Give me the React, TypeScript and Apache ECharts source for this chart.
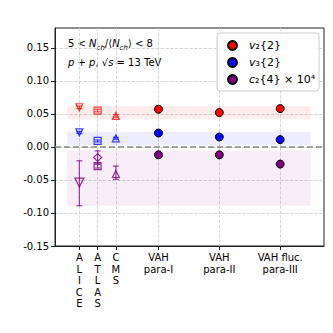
import React, { useEffect, useRef } from "react";
import * as echarts from "echarts";

const categories = ["ALICE", "ATLAS", "CMS", "VAH\npara-I", "VAH\npara-II", "VAH fluc.\npara-III"];
const xPos = [-0.3, 0, 0.3, 1, 2, 3];
const yTicks = [-0.15, -0.1, -0.05, 0, 0.05, 0.1, 0.15];

// experiments: ALICE, ATLAS, CMS
const exptSymbols = ["triangle", "rect", "triangle"];
const exptRotate = [180, 0, 0];
const exptV2 = [0.06, 0.055, 0.047];
const exptV2Err = [0.002, 0.002, 0.002];
const exptV3 = [0.022, 0.009, 0.013];
const exptV3Err = [0.0015, 0.0015, 0.0015];
const exptC2 = [-0.054, -0.029, -0.041];
const exptC2Lo = [-0.089, -0.032, -0.049];
const exptC2Hi = [-0.021, -0.026, -0.029];
// ATLAS second c2 point (diamond)
const atlasC2b = -0.016;
const atlasC2bLo = -0.026;
const atlasC2bHi = -0.006;

// VAH model points: para-I, para-II, fluc. para-III
const vahV2 = [0.057, 0.052, 0.058];
const vahV2Err = [0.001, 0.001, 0.001];
const vahV3 = [0.021, 0.015, 0.011];
const vahV3Err = [0.001, 0.001, 0.001];
const vahC2 = [-0.012, -0.012, -0.026];
const vahC2Err = [0.002, 0.002, 0.003];

// bands
const bandX = [-0.5, 3.5];
const bandV2 = [0.042, 0.062];
const bandV3 = [0.003, 0.023];
const bandC2 = [-0.089, -0.006];

const legendNames = ["v2{2}", "v3{2}", "c2{4}"];
const legendLabels = ["{i|v}₂{2}", "{i|v}₃{2}", "{i|c}₂{4} × 10⁴"];

const RED = "#ff0000";
const BLUE = "#0000ff";
const PURPLE = "#800080";
const FONT = "DejaVu Sans";

function errSeries(data: number[][], color: string) {
  return {
    type: "custom",
    silent: true,
    z: 3,
    renderItem: (params: any, api: any) => {
      const x = api.value(0);
      const lo = api.value(1);
      const hi = api.value(2);
      const p1 = api.coord([x, lo]);
      const p2 = api.coord([x, hi]);
      const w = 3;
      const st = { stroke: color, lineWidth: 1.2 };
      return {
        type: "group",
        children: [
          { type: "line", shape: { x1: p1[0], y1: p1[1], x2: p2[0], y2: p2[1] }, style: st },
          { type: "line", shape: { x1: p1[0] - w, y1: p1[1], x2: p1[0] + w, y2: p1[1] }, style: st },
          { type: "line", shape: { x1: p2[0] - w, y1: p2[1], x2: p2[0] + w, y2: p2[1] }, style: st },
        ],
      };
    },
    encode: { x: 0, y: [1, 2] },
    data,
  };
}

const labelMap: Record<string, string> = {};
xPos.forEach((x, i) => {
  const name = categories[i];
  labelMap[x.toFixed(2)] = name.includes("VAH") ? name : name.split("").join("\n");
});

export default function App() {
  const ref = useRef<HTMLDivElement>(null);
  useEffect(() => {
    const chart = echarts.init(ref.current!, null, { renderer: "svg" });
    const exptX = xPos.slice(0, 3);
    const vahX = xPos.slice(3);

    const exptScatter = (vals: number[], color: string, size: number) => ({
      type: "scatter",
      z: 4,
      data: vals.map((v, i) => ({
        value: [exptX[i], v],
        symbol: exptSymbols[i],
        symbolRotate: exptRotate[i],
      })),
      symbolSize: size,
      itemStyle: { color: "rgba(0,0,0,0)", borderColor: color, borderWidth: 1.2, opacity: 1 },
    });

    const vahScatter = (name: string, vals: number[], color: string) => ({
      name,
      type: "scatter",
      z: 5,
      data: vals.map((v, i) => [vahX[i], v]),
      symbol: "circle",
      symbolSize: 8,
      itemStyle: { color, borderColor: "#000", borderWidth: 1, opacity: 1 },
    });

    const markBand = (range: number[], color: string) => ({
      silent: true,
      itemStyle: { color },
      data: [[{ coord: [bandX[0], range[0]] }, { coord: [bandX[1], range[1]] }]],
    });

    const option: any = {
      animation: false,
      grid: { left: 55, right: 9, top: 28, bottom: 87, show: true, borderColor: "#222", borderWidth: 1 },
      xAxis: {
        type: "value",
        min: -0.7,
        max: 3.72,
        axisLine: { onZero: false, lineStyle: { color: "#222" } },
        axisTick: { show: true, customValues: xPos, length: 4, lineStyle: { color: "#222" } },
        axisLabel: {
          customValues: xPos,
          formatter: (v: number) => labelMap[v.toFixed(2)] ?? "",
          fontFamily: FONT,
          fontSize: 10,
          color: "#000",
          lineHeight: 11.5,
          verticalAlign: "top",
          align: "center",
          margin: 6,
        },
        splitLine: { show: true, lineStyle: { color: "#ccc", type: "dashed", width: 0.8 } },
      },
      yAxis: {
        type: "value",
        min: -0.15,
        max: 0.18,
        axisLine: { show: true, onZero: false, lineStyle: { color: "#222" } },
        axisTick: { show: true, customValues: yTicks, length: 4, lineStyle: { color: "#222" } },
        axisLabel: {
          customValues: yTicks,
          formatter: (v: number) => v.toFixed(2),
          fontFamily: FONT,
          fontSize: 10,
          color: "#000",
          margin: 6,
        },
        splitLine: { show: true, lineStyle: { color: "#ccc", type: "dashed", width: 0.8 } },
      },
      legend: {
        data: legendNames,
        orient: "vertical",
        left: 217,
        top: 33,
        padding: [6, 4, 5, 10],
        itemGap: 4,
        itemWidth: 9,
        itemHeight: 9,
        icon: "circle",
        borderColor: "#ccc",
        borderWidth: 1,
        borderRadius: 3,
        backgroundColor: "rgba(255,255,255,0.9)",
        formatter: (name: string) => legendLabels[legendNames.indexOf(name)],
        textStyle: {
          fontFamily: FONT,
          fontSize: 11,
          color: "#000",
          lineHeight: 13,
          padding: [0, 0, 0, 7],
          rich: {
            i: { fontFamily: FONT, fontStyle: "italic", fontSize: 11, lineHeight: 13 },
          },
        },
      },
      graphic: [
        {
          type: "text",
          left: 68,
          top: 38,
          style: {
            text: "5 < {i|N}{sub|ch}/⟨{i|N}{sub|ch}⟩ < 8",
            fontFamily: FONT,
            fontSize: 10,
            fill: "#000",
            rich: {
              i: { fontFamily: FONT, fontStyle: "italic", fontSize: 10 },
              sub: { fontFamily: FONT, fontStyle: "italic", fontSize: 7, verticalAlign: "bottom", lineHeight: 16 },
            },
          },
        },
        {
          type: "text",
          left: 68,
          top: 57,
          style: {
            text: "{i|p} + {i|p}, √{i|s} = 13 TeV",
            fontFamily: FONT,
            fontSize: 10,
            fill: "#000",
            rich: {
              i: { fontFamily: FONT, fontStyle: "italic", fontSize: 10 },
            },
          },
        },
      ],
      series: [
        {
          type: "line",
          data: [],
          silent: true,
          markArea: markBand(bandV2, "rgba(255,0,0,0.07)"),
        },
        {
          type: "line",
          data: [],
          silent: true,
          markArea: markBand(bandV3, "rgba(0,0,255,0.07)"),
        },
        {
          type: "line",
          data: [],
          silent: true,
          markArea: markBand(bandC2, "rgba(128,0,128,0.07)"),
          markLine: {
            silent: true,
            symbol: "none",
            label: { show: false },
            lineStyle: { color: "#888", type: "dashed", width: 1.5 },
            data: [{ yAxis: 0 }],
          },
        },
        errSeries(exptV2.map((v, i) => [exptX[i], v - exptV2Err[i], v + exptV2Err[i]]), "rgba(255,0,0,0.7)"),
        errSeries(exptV3.map((v, i) => [exptX[i], v - exptV3Err[i], v + exptV3Err[i]]), "rgba(0,0,255,0.7)"),
        errSeries(
          [...exptC2.map((v, i) => [exptX[i], exptC2Lo[i], exptC2Hi[i]]), [exptX[1], atlasC2bLo, atlasC2bHi]],
          "rgba(128,0,128,0.75)"
        ),
        exptScatter(exptV2, "rgba(255,0,0,0.75)", 7),
        exptScatter(exptV3, "rgba(0,0,255,0.75)", 7),
        {
          type: "scatter",
          z: 4,
          data: [
            ...exptC2.map((v, i) => ({
              value: [exptX[i], v],
              symbol: exptSymbols[i],
              symbolRotate: exptRotate[i],
              symbolSize: i === 0 ? 9 : 7,
            })),
            { value: [exptX[1], atlasC2b], symbol: "diamond", symbolSize: 8 },
          ],
          itemStyle: { color: "rgba(0,0,0,0)", borderColor: "rgba(128,0,128,0.8)", borderWidth: 1.2, opacity: 1 },
        },
        errSeries(vahV2.map((v, i) => [vahX[i], v - vahV2Err[i], v + vahV2Err[i]]), "rgba(255,0,0,0.45)"),
        errSeries(vahV3.map((v, i) => [vahX[i], v - vahV3Err[i], v + vahV3Err[i]]), "rgba(0,0,255,0.45)"),
        errSeries(vahC2.map((v, i) => [vahX[i], v - vahC2Err[i], v + vahC2Err[i]]), "rgba(200,0,200,0.55)"),
        vahScatter(legendNames[0], vahV2, RED),
        vahScatter(legendNames[1], vahV3, BLUE),
        vahScatter(legendNames[2], vahC2, PURPLE),
      ],
    };
    chart.setOption(option);
    return () => chart.dispose();
  }, []);
  return <div ref={ref} style={{ width: 333, height: 333, position: "absolute", left: 0, top: 0 }} />;
}
